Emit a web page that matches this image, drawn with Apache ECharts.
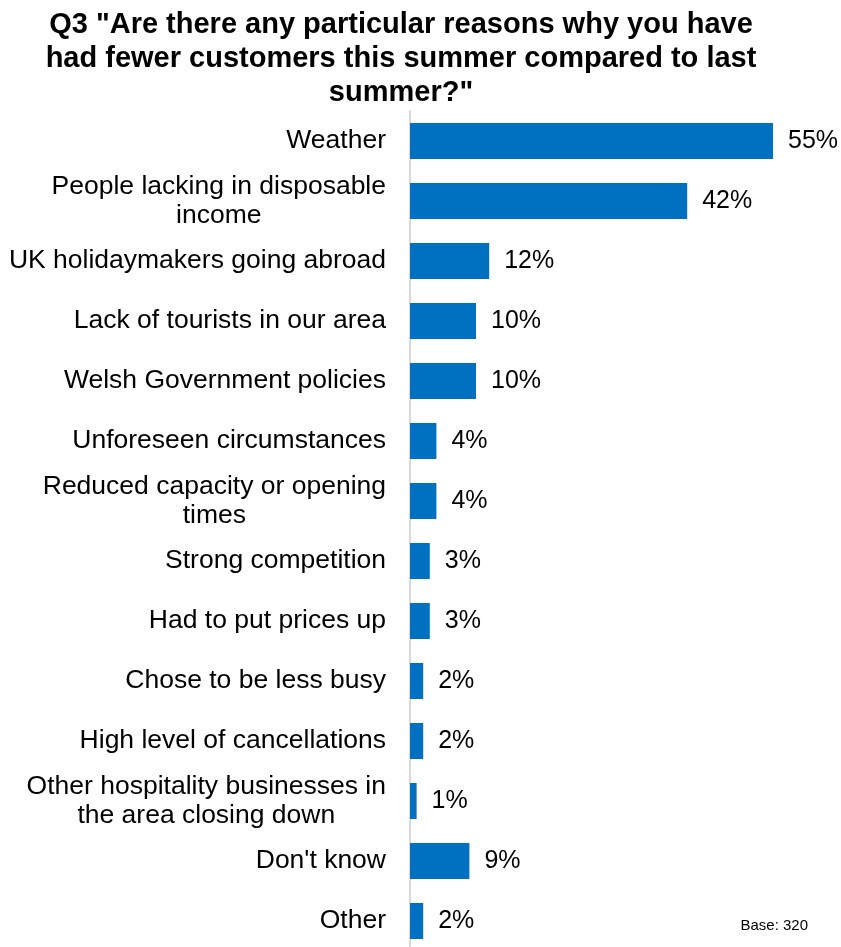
<!DOCTYPE html>
<html>
<head>
<meta charset="utf-8">
<script src="https://cdn.jsdelivr.net/npm/echarts@6/dist/echarts.min.js"></script>
<style>
  html, body { margin: 0; padding: 0; background: #ffffff; }
  #chart { width: 841px; height: 947px; }
</style>
</head>
<body>
<div id="chart"></div>
<script>
// Reasons for fewer customers (share of respondents, %)
const categories = [
  'Weather',
  'People lacking in disposable\nincome',
  'UK holidaymakers going abroad',
  'Lack of tourists in our area',
  'Welsh Government policies',
  'Unforeseen circumstances',
  'Reduced capacity or opening\ntimes',
  'Strong competition',
  'Had to put prices up',
  'Chose to be less busy',
  'High level of cancellations',
  'Other hospitality businesses in\nthe area closing down',
  "Don't know",
  'Other'
];
const values = [55, 42, 12, 10, 10, 4, 4, 3, 3, 2, 2, 1, 9, 2];
const titleText = 'Q3 "Are there any particular reasons why you have\nhad fewer customers this summer compared to last\nsummer?"';
const baseText = 'Base: 320';

const FONT = 'Liberation Sans, Arial, sans-serif';
const chart = echarts.init(document.getElementById('chart'), null, { renderer: 'canvas' });

chart.setOption({
  backgroundColor: '#ffffff',
  animation: false,
  title: {
    text: titleText,
    left: 396,
    top: 3,
    textAlign: 'center',
    textStyle: {
      fontFamily: FONT,
      fontWeight: 'bold',
      fontSize: 29,
      lineHeight: 34,
      color: '#000000'
    }
  },
  // the plot runs past the bottom edge, so the last row is slightly clipped
  grid: { left: 410, right: 35, top: 111, height: 840, containLabel: false, outerBoundsMode: 'none' },
  xAxis: {
    type: 'value',
    min: 0,
    max: 60,
    show: false
  },
  yAxis: {
    type: 'category',
    data: categories,
    inverse: true,
    axisTick: { show: false },
    axisLine: { show: true, lineStyle: { color: '#d9d9d9', width: 2 } },
    axisLabel: {
      margin: 24,
      fontFamily: FONT,
      fontSize: 26.5,
      color: '#000000',
      lineHeight: 29,
      // each line of a wrapped label is centred inside its right-aligned block
      formatter: function (v) {
        return v.split('\n').map(function (line) { return '{c|' + line + '}'; }).join('\n');
      },
      rich: {
        c: {
          align: 'center',
          fontFamily: FONT,
          fontSize: 26.5,
          lineHeight: 29,
          color: '#000000'
        }
      }
    }
  },
  series: [{
    type: 'bar',
    data: values,
    barWidth: 36,
    itemStyle: { color: '#0070C0' },
    label: {
      show: true,
      position: 'right',
      distance: 15,
      formatter: '{c}%',
      fontFamily: FONT,
      fontSize: 25,
      color: '#000000'
    }
  }],
  graphic: [{
    type: 'text',
    right: 33,
    top: 918,
    style: {
      text: baseText,
      fontFamily: FONT,
      fontSize: 15,
      fill: '#000000'
    }
  }]
});
</script>
</body>
</html>
